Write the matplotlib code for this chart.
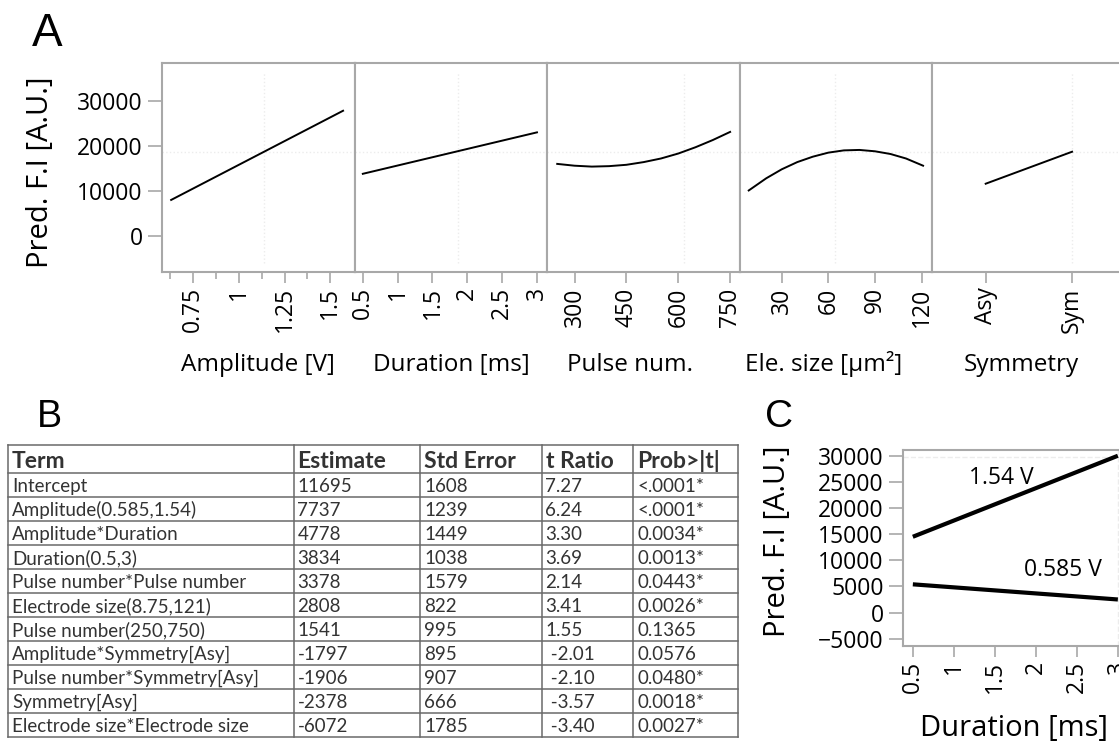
import numpy as np
import matplotlib
matplotlib.use("Agg")
from matplotlib import pyplot as plt

plt.rcParams["font.family"] = ["Open Sans", "DejaVu Sans"]

# ---- panel A: prediction profiler traces ----
amp_x = [0.63, 1.57]
amp_y = [8000, 27800]
dur_x = [0.5, 3.0]
dur_y = [13800, 23000]
pulse_x = [250, 300, 350, 400, 450, 500, 550, 600, 650, 700, 750]
pulse_y = [16000, 15600, 15400, 15500, 15800, 16400, 17200, 18300, 19700, 21300, 23100]
size_x = [8.75, 20, 30, 40, 50, 60, 70, 80, 90, 100, 110, 121]
size_y = [10100, 12800, 14800, 16400, 17600, 18500, 19000, 19100, 18800, 18200, 17200, 15600]
sym_levels = ["Asy", "Sym"]
sym_y = [11600, 18700]
current_fi = 18600

profile_labels = ["Amplitude [V]", "Duration [ms]", "Pulse num.", "Ele. size [µm²]", "Symmetry"]

# ---- panel B: parameter estimates ----
header = ["Term", "Estimate", "Std Error", "t Ratio", "Prob>|t|"]
terms = ["Intercept", "Amplitude(0.585,1.54)", "Amplitude*Duration", "Duration(0.5,3)",
         "Pulse number*Pulse number", "Electrode size(8.75,121)", "Pulse number(250,750)",
         "Amplitude*Symmetry[Asy]", "Pulse number*Symmetry[Asy]", "Symmetry[Asy]",
         "Electrode size*Electrode size"]
estimates = ["11695", "7737", "4778", "3834", "3378", "2808", "1541", "-1797", "-1906", "-2378", "-6072"]
std_errors = ["1608", "1239", "1449", "1038", "1579", "822", "995", "895", "907", "666", "1785"]
t_ratios = ["7.27", "6.24", "3.30", "3.69", "2.14", "3.41", "1.55", " -2.01", " -2.10", " -3.57", " -3.40"]
probs = ["<.0001*", "<.0001*", "0.0034*", "0.0013*", "0.0443*", "0.0026*", "0.1365", "0.0576",
         "0.0480*", "0.0018*", "0.0027*"]

# ---- panel C: interaction amplitude x duration ----
c_dur = [0.5, 3.0]
c_high = [14500, 30000]
c_low = [5400, 2500]
c_names = ["1.54 V", "0.585 V"]

W, H = 1119, 744
grey = "#a8a8a8"
fig = plt.figure(figsize=(W / 100, H / 100), dpi=100)


def box(x0, y0, x1, y1):
    return [x0 / W, 1 - y1 / H, (x1 - x0) / W, (y1 - y0) / H]


def style(ax):
    for s in ax.spines.values():
        s.set_color(grey)
        s.set_linewidth(1.5)


panels = [
    (amp_x, amp_y, (0.58, 1.633), [0.75, 1, 1.25, 1.5], ["0.75", "1", "1.25", "1.5"], 1.138),
    (dur_x, dur_y, (0.382, 3.147), [0.5, 1, 1.5, 2, 2.5, 3], ["0.5", "1", "1.5", "2", "2.5", "3"], 1.86),
    (pulse_x, pulse_y, (221, 778), [300, 450, 600, 750], ["300", "450", "600", "750"], 616),
    (size_x, size_y, (3, 127), [30, 60, 90, 120], ["30", "60", "90", "120"], 64),
    ([0, 1], sym_y, (-0.617, 1.613), [0, 1], sym_levels, 1),
]
label_cx = [258, 451, 630, 824, 1021]
pw = 192.6
for i, (x, y, xl, ticks, tlabels, cur) in enumerate(panels):
    ax = fig.add_axes(box(162 + i * pw, 63, 162 + (i + 1) * pw, 272))
    style(ax)
    ax.axhline(current_fi, color="#ececec", lw=1, ls=":", zorder=0)
    ax.axvline(cur, ymin=0.043, ymax=0.952, color="#ececec", lw=1, ls=":", zorder=0)
    ax.plot(x, y, color="black", lw=1.4)
    ax.set_xlim(*xl)
    ax.set_ylim(-8000, 38400)
    ax.set_xticks(ticks, tlabels, rotation=90)
    ax.tick_params(axis="x", length=8, width=1.2, color=grey, pad=3, labelsize=16.5)
    if i == 0:
        ax.set_xticks([0.625, 0.875, 1.125, 1.375], minor=True)
        ax.tick_params(axis="x", which="minor", length=5, width=1.2, color=grey)
        ax.set_yticks([0, 10000, 20000, 30000])
        ax.tick_params(axis="y", length=10, width=1.2, color=grey, pad=4, labelsize=16.5)
    else:
        ax.set_yticks([])
    fig.text(label_cx[i] / W, 1 - 371 / H, profile_labels[i], fontsize=17.5,
             ha="center", va="baseline")

fig.text(41 / W, 1 - 172 / H, "Pred. F.I [A.U.]", fontsize=21, rotation=90,
         ha="center", va="center")

# ---- table ----
tb = fig.add_axes([0, 0, 1, 1])
tb.set_xlim(0, W)
tb.set_ylim(H, 0)
tb.axis("off")
col_x = [8, 293.5, 420.3, 541.5, 633.3, 738.3]
row_y = [445, 472.7] + [472.7 + 24 * (k + 1) for k in range(len(terms))]
line_c = "#6a6a6a"
for yy in row_y:
    tb.plot([col_x[0], col_x[-1]], [yy, yy], color=line_c, lw=1.1)
for xx in col_x:
    tb.plot([xx, xx], [row_y[0], row_y[-1]], color=line_c, lw=1.1)
for j, h in enumerate(header):
    tb.text(col_x[j] + 4, row_y[1] - 5, h, fontsize=16.5, fontweight="bold",
            family=["Lato", "DejaVu Sans"], color="#333333", va="baseline")
columns = [terms, estimates, std_errors, t_ratios, probs]
for j, col in enumerate(columns):
    for k, v in enumerate(col):
        tb.text(col_x[j] + 4, row_y[k + 2] - 5, v, fontsize=13.5,
                family=["Lato", "DejaVu Sans"], color="#333333", va="baseline")

# ---- panel C ----
axc = fig.add_axes(box(903, 450, 1127.7, 646))
style(axc)
axc.axhline(29800, color="#ececec", lw=1, ls="--", zorder=0)
axc.axvline(3.0, color="#ececec", lw=1, ls="--", zorder=0)
axc.plot(c_dur, c_high, color="black", lw=3, solid_capstyle="butt")
axc.plot(c_dur, c_low, color="black", lw=3, solid_capstyle="butt")
axc.text(1.577, 25800, c_names[0], fontsize=16.5, ha="center", va="center")
axc.text(2.33, 8050, c_names[1], fontsize=16.5, ha="center", va="center")
axc.set_xlim(0.38, 3.12)
axc.set_ylim(-6400, 31100)
axc.set_xticks([0.5, 1, 1.5, 2, 2.5, 3], ["0.5", "1", "1.5", "2", "2.5", "3"], rotation=90)
axc.set_yticks(range(-5000, 30001, 5000))
axc.tick_params(axis="x", length=8, width=1.2, color=grey, pad=3, labelsize=16.5)
axc.tick_params(axis="y", length=10, width=1.2, color=grey, pad=4, labelsize=16.5)
fig.text(1014 / W, 1 - 736 / H, "Duration [ms]", fontsize=21, ha="center", va="baseline")
fig.text(777 / W, 1 - 541 / H, "Pred. F.I [A.U.]", fontsize=21, rotation=90,
         ha="center", va="center")

# ---- panel letters ----
letter_font = ["Liberation Sans", "DejaVu Sans"]
fig.text(32 / W, 1 - 46 / H, "A", fontsize=33, family=letter_font, va="baseline")
fig.text(37 / W, 1 - 427 / H, "B", fontsize=27, family=letter_font, va="baseline")
fig.text(765 / W, 1 - 427 / H, "C", fontsize=28, family=letter_font, va="baseline")

fig.savefig("out.png", dpi=100)
